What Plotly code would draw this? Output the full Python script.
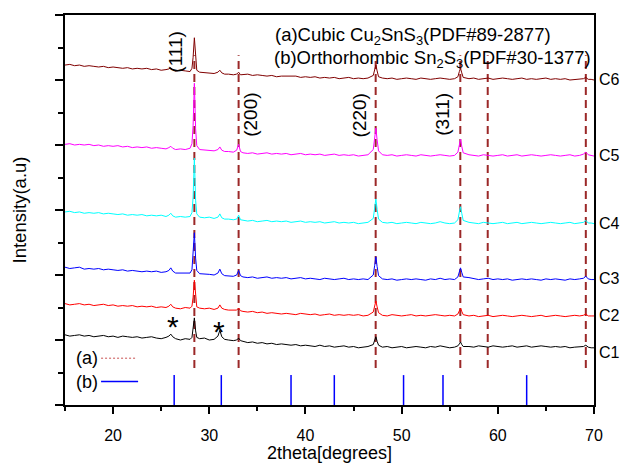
import plotly.graph_objects as go

# ---------------- data ----------------
two_theta = [
    15.0, 15.5, 16.0, 16.5, 17.0, 17.5, 18.0, 18.5, 19.0, 19.5, 20.0, 20.5, 21.0, 21.5, 22.0, 22.5, 23.0, 23.5, 24.0, 24.5, 25.0, 25.5,
    25.8, 26.0, 26.2,
    26.5, 27.0, 27.5, 28.0,
    28.2, 28.32, 28.45, 28.58, 28.7,
    29.0, 29.5, 30.0, 30.5,
    30.9, 31.1, 31.3,
    31.6, 32.0, 32.5,
    32.85, 33.05, 33.25,
    33.5, 34.0, 34.5, 35.0, 35.5, 36.0, 36.5, 37.0, 37.5, 38.0, 38.5, 39.0, 39.5, 40.0, 40.5, 41.0, 41.5, 42.0, 42.5, 43.0, 43.5, 44.0, 44.5, 45.0, 45.5, 46.0, 46.5,
    47.05, 47.2, 47.32, 47.45, 47.6,
    48.0, 48.5, 49.0, 49.5, 50.0, 50.5, 51.0, 51.5, 52.0, 52.5, 53.0, 53.5, 54.0, 54.5, 55.0, 55.5,
    55.85, 56.0, 56.12, 56.25, 56.4,
    57.0, 57.5, 58.0, 58.5, 59.0, 59.5, 60.0, 60.5, 61.0, 61.5, 62.0, 62.5, 63.0, 63.5, 64.0, 64.5, 65.0, 65.5, 66.0, 66.5, 67.0, 67.5, 68.0, 68.5,
    68.9, 69.15, 69.4,
    69.7, 70.0,
]

c1 = [
    108, 106, 107, 108, 106, 107, 105, 106, 107, 105, 106, 104, 106, 105, 104, 105, 103, 104, 105, 103, 102, 104,
    106, 109, 105,
    102, 100, 102, 101,
    104, 115, 134, 114, 104,
    102, 103, 100, 101,
    106, 115, 105,
    101, 100, 99,
    100, 103, 99,
    98, 96, 97, 95, 96, 94, 95, 93, 94, 93, 92, 93, 91, 92, 91, 90, 92, 90, 91, 89, 90, 91, 89, 90, 88, 89, 90,
    93, 99, 105, 98, 92,
    89, 90, 88, 89, 90, 88, 89, 90, 89, 88, 90, 89, 91, 90, 88, 89,
    91, 94, 97, 93, 90,
    90, 89, 91, 90, 89, 91, 90, 89, 90, 91, 89, 90, 91, 89, 90, 91, 90, 89, 90, 89, 90, 88, 89, 90,
    90, 92, 89,
    88, 88,
]

c2 = [
    156, 154, 155, 156, 154, 155, 153, 154, 155, 153, 154, 152, 153, 152, 153, 151, 152, 151, 152, 150, 151, 150,
    152, 155, 151,
    149, 148, 150, 149,
    152, 166, 192, 163, 151,
    149, 148, 149, 147,
    149, 154, 149,
    147, 146, 146,
    146, 149, 145,
    144, 143, 144, 142, 143, 141, 142, 141, 140, 141, 140, 139, 141, 140, 139, 140, 138, 139, 140, 138, 139, 138, 139, 138, 139, 137, 138,
    143, 152, 160, 151, 142,
    138, 137, 139, 138, 137, 138, 139, 137, 138, 137, 138, 139, 138, 137, 138, 137,
    140, 145, 149, 144, 139,
    137, 138, 136, 137, 138, 136, 137, 138, 137, 136, 137, 138, 137, 136, 137, 138, 136, 137, 138, 137, 136, 137, 138, 137,
    138, 140, 137,
    137, 137,
]

c3 = [
    212, 210, 211, 212, 209, 210, 209, 210, 208, 209, 208, 207, 208, 206, 207, 206, 205, 206, 205, 206, 204, 205,
    207, 211, 206,
    203, 203, 204, 203,
    208, 230, 265, 226, 207,
    202, 202, 201, 200,
    203, 209, 202,
    199, 199, 198,
    200, 207, 199,
    197, 196, 197, 195, 196, 197, 195, 196, 195, 196, 194, 195, 196, 194, 195, 194, 193, 195, 194, 193, 194, 195, 193, 194, 193, 194, 193,
    200, 215, 228, 213, 199,
    194, 193, 194, 192, 193, 194, 193, 194, 193, 192, 194, 193, 195, 193, 194, 193,
    197, 205, 211, 204, 197,
    196, 194, 193, 194, 195, 193, 194, 193, 194, 192, 193, 194, 193, 194, 193, 192, 194, 193, 194, 193, 192, 194, 193, 194,
    195, 198, 194,
    193, 193,
]

c4 = [
    297, 298, 296, 297, 295, 296, 295, 296, 294, 295, 294, 293, 294, 292, 293, 292, 293, 291, 292, 291, 292, 290,
    292, 295, 291,
    289, 290, 289, 290,
    296, 320, 380, 315, 294,
    289, 288, 289, 287,
    289, 294, 288,
    286, 286, 285,
    286, 292, 285,
    284, 283, 284, 282, 283, 284, 282, 283, 282, 283, 281, 282, 283, 281, 282, 281, 282, 280, 281, 282, 280, 281, 280, 281, 279, 280, 281,
    287, 303, 317, 301, 286,
    281, 280, 281, 279, 280, 281, 280, 279, 281, 280, 279, 280, 282, 280, 279, 280,
    285, 297, 305, 295, 284,
    281, 280, 279, 281, 280, 279, 280, 281, 279, 280, 281, 279, 280, 281, 280, 279, 280, 281, 280, 279, 280, 281, 279, 280,
    281, 284, 280,
    280, 279,
]

c5 = [
    401, 402, 400, 401, 400, 401, 399, 400, 398, 399, 398, 399, 397, 398, 396, 397, 396, 397, 395, 396, 395, 394,
    396, 398, 395,
    393, 394, 393, 395,
    402, 430, 495, 425, 399,
    393, 392, 392, 391,
    393, 397, 392,
    390, 390, 389,
    392, 401, 390,
    388, 387, 388, 386, 387, 388, 386, 387, 386, 387, 385, 386, 387, 385, 386, 385, 386, 384, 385, 386, 384, 385, 384, 385, 383, 384, 385,
    393, 410, 426, 408, 391,
    385, 384, 385, 383, 384, 385, 384, 383, 385, 384, 383, 384, 385, 384, 383, 384,
    389, 400, 409, 398, 388,
    385, 384, 383, 385, 384, 383, 384, 385, 383, 384, 385, 383, 384, 385, 384, 383, 384, 385, 384, 383, 384, 385, 383, 384,
    386, 389, 385,
    384, 383,
]

c6 = [
    523, 524, 522, 523, 521, 522, 521, 520, 521, 519, 520, 519, 518, 519, 517, 518, 517, 518, 516, 517, 515, 516,
    517, 519, 516,
    514, 515, 514, 513,
    518, 535, 565, 532, 515,
    512, 511, 511, 510,
    512, 515, 511,
    509, 509, 508,
    509, 512, 508,
    508, 509, 507, 508, 507, 506, 507, 505, 506, 506, 505, 506, 504, 505, 504, 505, 503, 504, 503, 504, 502, 503, 504, 502, 503, 502, 503,
    507, 516, 523, 514, 505,
    503, 502, 503, 501, 502, 503, 502, 501, 503, 502, 501, 502, 503, 502, 501, 502,
    505, 513, 518, 511, 504,
    502, 503, 501, 502, 503, 501, 502, 503, 502, 501, 502, 503, 501, 502, 501, 502, 503, 501, 502, 501, 502, 500, 501, 502,
    502, 504, 501,
    501, 500,
]

series_names = ["C1", "C2", "C3", "C4", "C5", "C6"]
series_values = [c1, c2, c3, c4, c5, c6]
series_colors = ["#000000", "#ff0000", "#0000ff", "#00ffff", "#ff00ff", "#800000"]
label_y = [81.5, 137, 194, 278.5, 384.6, 501.5]

pdf_a_positions = [28.45, 33.05, 47.3, 56.1, 58.95, 69.15]   # Cubic Cu2SnS3
pdf_a_range = [57, 538]
pdf_b_positions = [26.35, 31.25, 38.5, 43.0, 50.2, 54.3, 63.0]  # Orthorhombic Sn2S3
pdf_b_range = [0, 46]

hkl_labels = ["(111)", "(200)", "(220)", "(311)"]
hkl_x = [26.4, 34.2, 45.6, 54.3]
hkl_y = [543, 446, 446, 448]

x_ticks = [20, 30, 40, 50, 60, 70]

for v in series_values:
    assert len(v) == len(two_theta), (len(v), len(two_theta))

FONT = "Liberation Sans, Arial, sans-serif"

fig = go.Figure()

# reference lines (a)
xa, ya = [], []
for p in pdf_a_positions:
    xa += [p, p, None]
    ya += [pdf_a_range[0], pdf_a_range[1], None]
fig.add_trace(go.Scatter(x=xa, y=ya, mode="lines",
                         line=dict(color="rgb(155,40,40)", width=2, dash="8px,5px"),
                         hoverinfo="skip", showlegend=False))

# reference lines (b)
xb, yb = [], []
for p in pdf_b_positions:
    xb += [p, p, None]
    yb += [pdf_b_range[0], pdf_b_range[1], None]
fig.add_trace(go.Scatter(x=xb, y=yb, mode="lines",
                         line=dict(color="#0000ff", width=1.5),
                         hoverinfo="skip", showlegend=False))

for name, vals, col in zip(series_names, series_values, series_colors):
    fig.add_trace(go.Scatter(x=two_theta, y=vals, mode="lines", name=name,
                             line=dict(color=col, width=1), showlegend=False))

# small legend (a)/(b) sample lines
fig.add_trace(go.Scatter(x=[18.75, 22.4], y=[72, 72], mode="lines",
                         line=dict(color="rgb(200,80,80)", width=1, dash="2px,2px"),
                         hoverinfo="skip", showlegend=False))
fig.add_trace(go.Scatter(x=[18.75, 22.6], y=[36, 36], mode="lines",
                         line=dict(color="#0000ff", width=1.5),
                         hoverinfo="skip", showlegend=False))

ann = []
for name, yv in zip(series_names, label_y):
    ann.append(dict(x=1.006, xref="paper", y=yv, yref="y", text=name, showarrow=False,
                    xanchor="left", yanchor="middle", font=dict(size=16, color="black", family=FONT)))
for t, xv, yv in zip(hkl_labels, hkl_x, hkl_y):
    ann.append(dict(x=xv, y=yv, text=t, textangle=-90, showarrow=False,
                    xanchor="center", yanchor="middle", font=dict(size=19, color="black", family=FONT)))
ann.append(dict(x=36.6, y=567, text="(a)Cubic Cu<sub>2</sub>SnS<sub>3</sub>(PDF#89-2877)", showarrow=False,
                xanchor="left", yanchor="middle", font=dict(size=18.5, color="black", family=FONT)))
ann.append(dict(x=36.5, y=532, text="(b)Orthorhombic Sn<sub>2</sub>S<sub>3</sub>(PDF#30-1377)", showarrow=False,
                xanchor="left", yanchor="middle", font=dict(size=18.5, color="black", family=FONT)))
ann.append(dict(x=15.9, y=72, text="(a)", showarrow=False, xanchor="left", yanchor="middle",
                font=dict(size=18, color="black", family=FONT)))
ann.append(dict(x=15.9, y=36, text="(b)", showarrow=False, xanchor="left", yanchor="middle",
                font=dict(size=18, color="black", family=FONT)))
ann.append(dict(x=26.25, y=121, text="*", showarrow=False, xanchor="center", yanchor="middle",
                font=dict(size=30, color="black", family=FONT)))
ann.append(dict(x=31.05, y=113, text="*", showarrow=False, xanchor="center", yanchor="middle",
                font=dict(size=30, color="black", family=FONT)))

fig.update_layout(
    width=620, height=463,
    margin=dict(l=65, r=26, t=15, b=58, autoexpand=False),
    paper_bgcolor="white", plot_bgcolor="white",
    font=dict(family=FONT, color="black"),
    annotations=ann,
    xaxis=dict(range=[15, 70], tickvals=x_ticks, ticks="outside", ticklen=7, tickwidth=1.5,
               tickcolor="black", showline=True, linecolor="black", linewidth=2, mirror=True,
               showgrid=False, zeroline=False, tickfont=dict(size=16, family=FONT), automargin=False,
               ticklabelstandoff=8,
               minor=dict(tick0=15, dtick=5, ticks="outside", ticklen=4, tickwidth=1.5, tickcolor="black"),
               title=dict(text="2theta[degrees]", font=dict(size=18, family=FONT), standoff=9)),
    yaxis=dict(range=[0, 600], dtick=100, tick0=0, showticklabels=False, ticks="outside", ticklen=8,
               tickwidth=1.5, tickcolor="black", showline=True, linecolor="black", linewidth=2,
               mirror=True, showgrid=False, zeroline=False, automargin=False,
               minor=dict(tick0=0, dtick=50, ticks="outside", ticklen=5, tickwidth=1.5, tickcolor="black"),
               title=dict(text="Intensity(a.u)", font=dict(size=18.5, family=FONT), standoff=24)),
)

fig.write_html("out.html", config={"displayModeBar": False},
               post_script="document.body.style.margin='0px';document.body.style.overflow='hidden';")
